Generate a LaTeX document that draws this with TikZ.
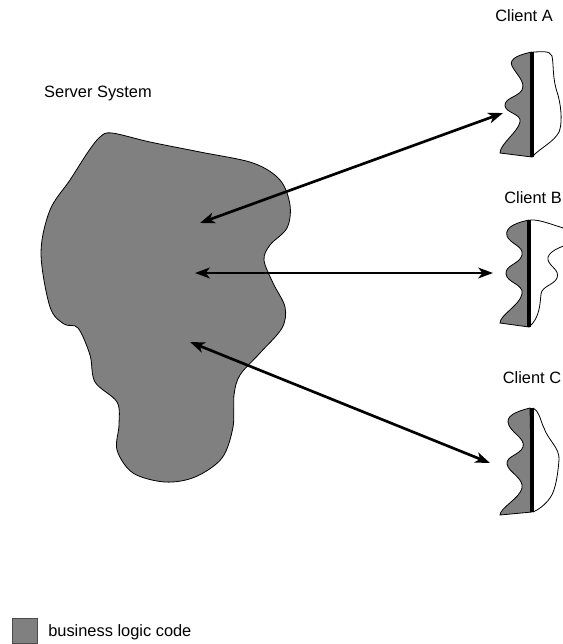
\documentclass[tikz,border=0pt]{standalone}
\usepackage{fontspec}
\setmainfont{Liberation Sans}
\usetikzlibrary{arrows.meta}

\tikzset{
  lbl/.style={font=\fontsize{12.3}{14}\selectfont, inner sep=0pt},
  logic/.style={fill=gray, draw=black, line width=0.6pt},
  ui/.style={draw=black, line width=0.6pt},
  split/.style={line width=2.6pt},
  call/.style={line width=2pt, {Stealth[fill=white,length=11pt,width=8pt,inset=3pt]}-{Stealth[fill=white,length=11pt,width=8pt,inset=3pt]}}
}

\begin{document}
\begin{tikzpicture}[x=0.75pt,y=-0.75pt]
\useasboundingbox (0,0) rectangle (563,644);

% server
\path (98,97) node[lbl, anchor=base] (server){Server System};
\filldraw[logic] plot[smooth cycle, tension=0.55] coordinates {
  (112,133) (150,142) (200,152) (253,163) (280,180) (290,205) (287,228)
  (270,245) (264,260) (273,283) (285,307) (282,328) (260,353) (240,375)
  (234,395) (233,427) (222,458) (195,477) (165,482) (133,473) (117,450)
  (119,425) (117,402) (95,382) (90,355) (78,328) (64,324) (50,307)
  (41,253) (50,210) (70,180) (88,152) (100,137)};
\path (200,223) coordinate (srvA);
\path (195,273) coordinate (srvB);
\path (190,342) coordinate (srvC);

% client A
\path (524,21) node[lbl, anchor=base] (clientA){Client A};
\filldraw[logic] (532,52) .. controls (522,54) and (508,58) .. (512,66)
  .. controls (516,74) and (526,82) .. (522,90)
  .. controls (518,97) and (504,98) .. (505,106)
  .. controls (506,113) and (522,114) .. (520,122)
  .. controls (518,132) and (500,144) .. (500,153) -- (532,157) -- cycle;
\draw[ui] (533,52) .. controls (540,52) and (550,50) .. (552,56)
  .. controls (554,66) and (552,78) .. (558,95)
  .. controls (562,110) and (562,125) .. (559,132)
  .. controls (554,142) and (540,148) .. (532,157);
\draw[split] (532,52) -- (532,157);
\path (503,113) coordinate (cliA);

% client B
\path (533,203) node[lbl, anchor=base] (clientB){Client B};
\filldraw[logic] (529,220) .. controls (520,222) and (504,226) .. (507,236)
  .. controls (510,244) and (524,246) .. (522,255)
  .. controls (520,264) and (505,265) .. (506,274)
  .. controls (507,283) and (524,284) .. (522,294)
  .. controls (520,305) and (500,315) .. (500,323) -- (529,327) -- cycle;
\draw[ui] (530,220) .. controls (540,219) and (555,226) .. (570,230);
\draw[ui] (570,244) .. controls (562,246) and (546,252) .. (548,260)
  .. controls (550,267) and (560,270) .. (557,278)
  .. controls (554,285) and (542,286) .. (541,294)
  .. controls (540,303) and (540,318) .. (529,327);
\draw[split] (529,220) -- (529,327);
\path (493,273) coordinate (cliB);

% client C
\path (532,383) node[lbl, anchor=base] (clientC){Client C};
\filldraw[logic] (530,408) .. controls (522,410) and (507,414) .. (508,422)
  .. controls (509,432) and (526,438) .. (523,447)
  .. controls (520,455) and (506,456) .. (507,464)
  .. controls (508,472) and (524,478) .. (522,488)
  .. controls (520,498) and (500,508) .. (500,515) -- (532,512) -- cycle;
\draw[ui] (533,408) .. controls (540,412) and (540,420) .. (544,428)
  .. controls (548,440) and (560,448) .. (559,460)
  .. controls (558,472) and (556,490) .. (550,498)
  .. controls (545,505) and (538,510) .. (533,512);
\draw[split] (532,408) -- (532,512);
\path (490,463) coordinate (cliC);

% draw
\draw[call] (srvA) -- (cliA);
\draw[call] (srvB) -- (cliB);
\draw[call] (srvC) -- (cliC);

% legend
\path (12,618) coordinate (keytl);
\path (37,643) coordinate (keybr);
\filldraw[fill=gray, draw=gray!60!black, line width=0.6pt] (keytl) rectangle (keybr);
\path (48,636) node[lbl, anchor=base west] (key){business logic code};
\end{tikzpicture}
\end{document}
